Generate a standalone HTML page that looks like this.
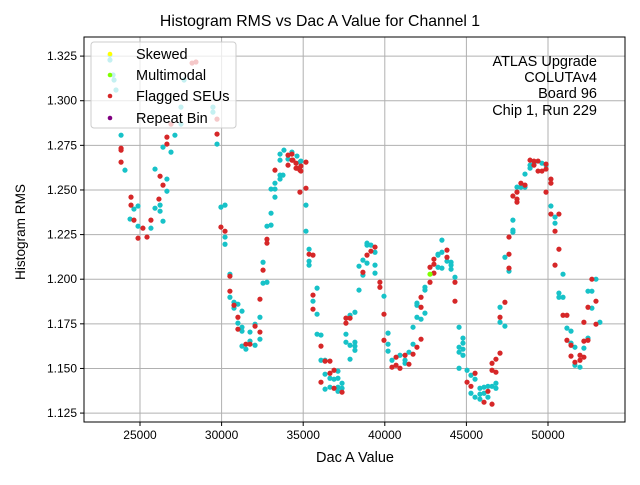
<!DOCTYPE html>
<html><head><meta charset="utf-8"><style>
body{margin:0;background:#fff;}
svg text{font-family:"Liberation Sans","DejaVu Sans",sans-serif;}
</style></head><body>
<svg id="chart" width="640" height="480" xmlns="http://www.w3.org/2000/svg">
<rect width="640" height="480" fill="#fff"/>
<g id="grid"></g>
<g id="pts"></g>
<rect x="84" y="37" width="541" height="385" fill="none" stroke="#000" stroke-width="1"/>
<g id="ticks"></g>
<text x="320" y="26" text-anchor="middle" font-size="15.8">Histogram RMS vs Dac A Value for Channel 1</text>
<text x="355" y="462" text-anchor="middle" font-size="14.5">Dac A Value</text>
<text x="25" y="232" text-anchor="middle" font-size="13.6" transform="rotate(-90 25 232)">Histogram RMS</text>
<g font-size="14.5" text-anchor="end">
<text x="597" y="66">ATLAS Upgrade</text>
<text x="597" y="82">COLUTAv4</text>
<text x="597" y="98">Board 96</text>
<text x="597" y="115">Chip 1, Run 229</text>
</g>
<g>
<rect x="91" y="42" width="145" height="86" rx="3" fill="#fff" fill-opacity="0.75" stroke="#ccc"/>
<g><circle cx="110" cy="54" r="2.3" fill="#ffff00"/><text x="136" y="59" font-size="14.5">Skewed</text></g>
<g><circle cx="110" cy="75" r="2.3" fill="#7fff00"/><text x="136" y="80" font-size="14.5">Multimodal</text></g>
<g><circle cx="110" cy="96" r="2.3" fill="#d62728"/><text x="136" y="101" font-size="14.5">Flagged SEUs</text></g>
<g><circle cx="110" cy="118" r="2.3" fill="#800080"/><text x="136" y="123" font-size="14.5">Repeat Bin</text></g>
</g>
</svg>
<script>
const xTicks=[25000,30000,35000,40000,45000,50000];
const yTicks=[1.125,1.150,1.175,1.200,1.225,1.250,1.275,1.300,1.325];
const normalDac=[23160,23160,23350,23410,23530,23840,24080,24390,24630,24880,24880,25670,25920,26230,26230,26410,25920,26650,26650,26410,26900,27140,27510,27510,27700,29470,29470,29720,29960,30210,30210,30210,
30510,30510,30760,31000,30760,31250,31000,31250,31250,31740,31250,31490,31740,32050,32350,32050,32350,32540,32780,32540,32780,33030,33030,33270,33030,33270,33270,33580,33760,33580,33580,33580,33820,34070,34310,34800,34620,34860,35170,35170,35360,35360,35360,
35850,35600,35850,35850,36090,36090,36340,36340,37130,36640,36890,37130,36340,36640,37130,37380,37380,37130,37620,37620,37870,38170,37870,38170,38170,38170,37870,38420,38660,38420,38660,38910,38910,38910,39150,39400,39400,39400,39950,40200,40200,40200,40440,40930,41240,41240,41480,41730,41730,41970,42220,41970,41970,42460,42460,42460,43260,43260,43260,43500,43500,43810,43500,44060,44060,44060,44300,
44550,44790,44790,44550,44790,44550,44790,44550,45040,45280,45530,45280,45530,45830,45830,45830,46080,46080,46320,46320,46570,46810,46810,47360,47060,47060,47610,47360,47850,47850,47850,48100,48340,48590,48590,48900,48900,49140,49630,49880,50180,50430,50430,50920,50670,50670,50920,51160,51410,51410,51650,51650,51960,52200,52450,52690,53180,52450,52690,52940];
const normalRms=[1.3256,1.3228,1.3144,1.3116,1.3060,1.2807,1.2611,1.2337,1.2393,1.2410,1.2297,1.2286,1.2398,1.2415,1.2381,1.2325,1.2617,1.2561,1.2493,1.2740,1.2712,1.2807,1.2869,1.2964,1.3116,1.2964,1.2936,1.2757,1.2404,1.2415,1.2236,1.2196,
1.2028,1.1899,1.1871,1.1860,1.1838,1.1821,1.1754,1.1731,1.1709,1.1704,1.1625,1.1608,1.1653,1.1630,1.1664,1.1748,1.1787,1.1978,1.1983,1.2095,1.2297,1.2370,1.2303,1.2460,1.2505,1.2505,1.2538,1.2583,1.2583,1.2561,1.2701,1.2667,1.2723,1.2673,1.2712,1.2656,1.2690,1.2662,1.2415,1.2269,1.2168,1.2101,1.2079,
1.1950,1.1877,1.1804,1.1692,1.1687,1.1546,1.1546,1.1468,1.1485,1.1445,1.1440,1.1445,1.1384,1.1395,1.1395,1.1417,1.1389,1.1372,1.1692,1.1647,1.1798,1.1815,1.1630,1.1647,1.1625,1.1602,1.1552,1.1939,1.2023,1.2073,1.2107,1.2090,1.2202,1.2191,1.2191,1.2151,1.2079,1.2034,1.1905,1.1698,1.1636,1.1597,1.1546,1.1574,1.1546,1.1529,1.1591,1.1636,1.1731,1.1787,1.1776,1.1866,1.1854,1.1810,1.1955,1.1939,1.2067,1.2140,1.2135,1.2151,1.2219,1.2101,1.2062,1.2095,1.2079,1.2056,1.2011,
1.1731,1.1670,1.1642,1.1619,1.1608,1.1591,1.1574,1.1501,1.1490,1.1462,1.1440,1.1361,1.1339,1.1389,1.1356,1.1328,1.1361,1.1395,1.1400,1.1339,1.1400,1.1417,1.1389,1.1737,1.1759,1.1843,1.2045,1.2123,1.2264,1.2275,1.2331,1.2516,1.2516,1.2516,1.2589,1.2622,1.2639,1.2650,1.2650,1.2639,1.2410,1.2348,1.2314,1.2028,1.1922,1.1899,1.1899,1.1726,1.1709,1.1642,1.1619,1.1518,1.1507,1.1614,1.1670,1.1838,1.1759,1.1933,1.1933,1.2000];
const flaggedDac=[23840,23840,23840,24450,24450,24630,25180,24880,25430,25670,26160,26410,26230,26650,26650,26900,28190,28430,29720,29720,29960,30210,
30510,30510,30760,31000,31000,31490,31740,32350,32050,32350,32540,32780,32780,33270,34070,34070,34310,34310,34560,34560,34800,34800,34370,34620,34860,34860,35170,35170,35360,35600,
35600,35600,36090,36340,36640,36090,36640,36890,36890,37380,37620,37620,37870,38660,38910,39150,39400,39700,39700,39950,39950,40440,40690,40690,40930,41240,41480,41730,41970,42220,42220,42220,42770,43010,42770,43010,43010,43810,43810,44300,44300,
45040,45530,45280,46080,46320,46570,46810,46570,46570,46810,47060,47060,47360,47610,47610,47610,48100,48100,47850,48100,48340,48590,48900,49140,49140,49390,49390,49630,49880,49880,49880,50180,50180,50180,50670,50430,50670,50430,50920,51160,51160,51410,51410,51650,51960,51960,52200,52200,52450,52200,52450,52940,52940,52690];
const flaggedRms=[1.2734,1.2723,1.2656,1.2460,1.2415,1.2331,1.2286,1.2230,1.2236,1.2331,1.2449,1.2527,1.2577,1.2757,1.2796,1.2869,1.3211,1.3217,1.2897,1.2813,1.2292,1.2269,
1.2017,1.1933,1.1854,1.1787,1.1720,1.1636,1.1636,1.1704,1.1737,1.1888,1.2051,1.2224,1.2202,1.2611,1.2639,1.2695,1.2701,1.2667,1.2650,1.2622,1.2611,1.2488,1.2667,1.2622,1.2634,1.2606,1.2656,1.2510,1.2140,1.2135,
1.1911,1.1832,1.1625,1.1541,1.1541,1.1423,1.1473,1.1490,1.1389,1.1367,1.1754,1.1782,1.1782,1.2039,1.2135,1.2157,1.2180,1.1983,1.1955,1.1804,1.1658,1.1507,1.1563,1.1518,1.1501,1.1574,1.1524,1.1580,1.1619,1.1664,1.1843,1.1899,1.1983,1.2034,1.2067,1.2084,1.2112,1.2163,1.2123,1.1983,1.1877,
1.1423,1.1473,1.1400,1.1311,1.1372,1.1300,1.1479,1.1490,1.1529,1.1552,1.1586,1.1787,1.1871,1.2062,1.2140,1.2236,1.2432,1.2449,1.2466,1.2488,1.2538,1.2527,1.2667,1.2662,1.2639,1.2662,1.2606,1.2606,1.2645,1.2617,1.2488,1.2561,1.2538,1.2365,1.2365,1.2269,1.2168,1.2079,1.1798,1.1798,1.1658,1.1630,1.1569,1.1535,1.1574,1.1546,1.1563,1.1653,1.1658,1.1759,1.1843,1.1877,1.1748,1.2000];
const multimodalDac=[42770];
const multimodalRms=[1.2028];

const X0=84,X1=625,Y0=37,Y1=422;
const xMin=21569,xMax=54718,yMin=1.1200,yMax=1.3357;
function sx(v){return X0+(v-xMin)/(xMax-xMin)*(X1-X0);}
function sy(v){return Y1-(v-yMin)/(yMax-yMin)*(Y1-Y0);}
const NS="http://www.w3.org/2000/svg";
const grid=document.getElementById('grid'),ticks=document.getElementById('ticks'),pts=document.getElementById('pts');
function mk(tag,attrs,parent){const e=document.createElementNS(NS,tag);for(const k in attrs)e.setAttribute(k,attrs[k]);parent.appendChild(e);return e;}
xTicks.forEach(v=>{const x=sx(v);
 const g=mk('line',{x1:x,x2:x,y1:Y0,y2:Y1,stroke:'#b0b0b0','stroke-width':1},grid);
 
 
 mk('line',{x1:x,x2:x,y1:Y1,y2:Y1+4,stroke:'#000'},ticks);
 const t=mk('text',{x:x,y:Y1+17,'text-anchor':'middle','font-size':12},ticks);t.textContent=v;
 
 
});
yTicks.forEach(v=>{const y=sy(v);
 const g=mk('line',{x1:X0,x2:X1,y1:y,y2:y,stroke:'#b0b0b0','stroke-width':1},grid);
 
 
 mk('line',{x1:X0-4,x2:X0,y1:y,y2:y,stroke:'#000'},ticks);
 const t=mk('text',{x:X0-7,y:y+4,'text-anchor':'end','font-size':12},ticks);t.textContent=v.toFixed(3);
 
 
});
function series(dac,rms,color,name){
 for(let i=0;i<dac.length;i++){
  const c=mk('circle',{cx:sx(dac[i]),cy:sy(rms[i]),r:2.6,fill:color},pts);
  
  
 }
}
series(normalDac,normalRms,'#17c2c8','point-normal');
series(flaggedDac,flaggedRms,'#d62728','point-flagged-seu');
series(multimodalDac,multimodalRms,'#7fff00','point-multimodal');
</script>
</body></html>
